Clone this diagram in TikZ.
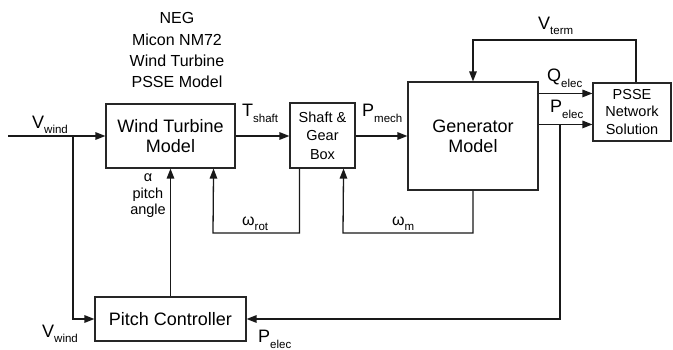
\documentclass[tikz,border=0pt]{standalone}
\usepackage{fontspec}
\setmainfont{Liberation Sans}
\usetikzlibrary{arrows.meta,calc}
\newcommand\sigl[3]{{\fontsize{18}{18}\selectfont #1}\raisebox{-#3pt}{\fontsize{11.5}{11.5}\selectfont #2}}
\newcommand\sigw[2]{{\fontsize{16}{16}\selectfont #1}\raisebox{-5pt}{\fontsize{11.5}{11.5}\selectfont #2}}
\begin{document}
\begin{tikzpicture}[x=1pt,y=-1pt,
  blk/.style={draw=black!85,line width=1.1pt,inner sep=0pt,align=center},
  big/.style={font=\fontsize{18}{20}\selectfont},
  mid/.style={font=\fontsize{14.5}{17.5}\selectfont},
  ttl/.style={font=\fontsize{16}{16}\selectfont,anchor=base,inner sep=0pt},
  lbl/.style={anchor=base west,inner sep=0pt},
  wire/.style={draw=black!90,line width=1.3pt},
  arr/.style={wire,-{Triangle[length=10pt,width=7.5pt]}}]
\useasboundingbox (0,0) rectangle (673,349);
% title
\node[ttl] (t1) at (177,23) {NEG};
\node[ttl] (t2) at (177,45) {Micon NM72};
\node[ttl] (t3) at (177,66) {Wind Turbine};
\node[ttl] (t4) at (177,87) {PSSE Model};
% blocks
\node[blk,big,minimum width=129pt,minimum height=64pt] (wt) at (170.5,136) {Wind Turbine\\Model};
\node[blk,mid,minimum width=65pt,minimum height=65pt,font=\fontsize{14.5}{18.5}\selectfont] (sg) at (322.5,135.5) {Shaft \&\\Gear\\Box};
\node[blk,big,minimum width=130pt,minimum height=108pt] (gen) at (473,136) {Generator\\Model};
\node[blk,mid,minimum width=78pt,minimum height=58pt] (ps) at (632,112) {PSSE\\Network\\Solution};
\node[blk,big,minimum width=151pt,minimum height=44pt] (pc) at (170.5,319) {Pitch Controller};
% coordinates
\coordinate (vin) at (8,136);
\coordinate (jv) at (73,136);
\coordinate (jp) at (560,125);
% connectors
\draw[arr] (vin) -- (wt.west);
\draw[arr] (jv) |- (pc.west);
\draw[arr] (wt.east) -- (wt.east -| sg.west);
\draw[arr] (sg.east |- wt.east) -- (gen.west);
\draw[arr] ([yshift=-12pt]gen.north east) -- ([yshift=-12pt]gen.north east -| ps.west);
\draw[arr] ([yshift=-43pt]gen.north east) -- ([yshift=-43pt]gen.north east -| ps.west);
\draw[arr] (jp) |- (pc.east);
\draw[arr] ([xshift=4pt]ps.north) |- (473,40) -- (gen.north);
\draw[arr] (gen.south) |- (343,233) -- ([xshift=-12pt]sg.south east);
\draw[arr] ([xshift=10pt]sg.south west) |- (213,233) -- ([xshift=-22pt]wt.south east);
\draw[arr] (pc.north) -- (wt.south);
% labels
\node[lbl] (lvw) at (32,128) {\sigl{V}{wind}{5}};
\node[lbl] (lvw2) at (42,337) {\sigl{V}{wind}{5}};
\node[lbl] (lpe2) at (258,342) {\sigl{P}{elec}{6}};
\node[lbl] (lts) at (242,116) {\sigl{T}{shaft}{6}};
\node[lbl] (lpm) at (362,116) {\sigl{P}{mech}{6}};
\node[lbl] (lqe) at (547,81) {\sigl{Q}{elec}{6}};
\node[lbl] (lpe) at (550,112) {\sigl{P}{elec}{6}};
\node[lbl] (lvt) at (538,29) {\sigl{V}{term}{5}};
\node[lbl] (lwm) at (392,225) {\sigw{ω}{m}};
\node[lbl] (lwr) at (242,225) {\sigw{ω}{rot}};
\node[inner sep=0pt,align=center,font=\fontsize{14.5}{16.5}\selectfont] (lal) at (148,196) {α\\pitch\\angle};
\end{tikzpicture}
\end{document}
